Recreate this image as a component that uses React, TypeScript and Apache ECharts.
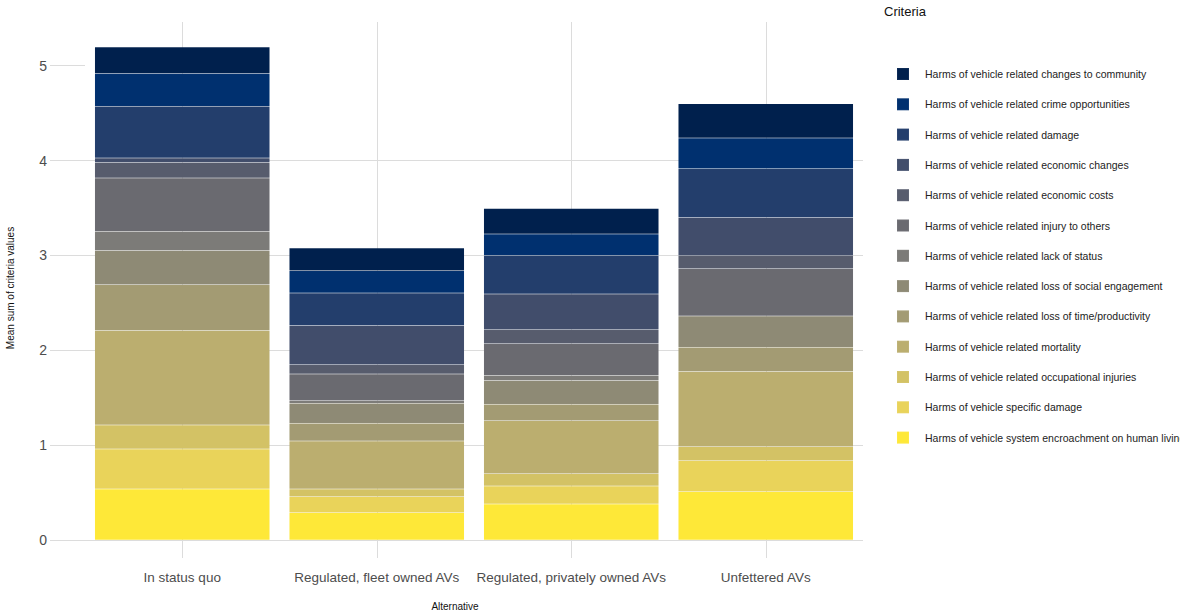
import React, { useEffect, useRef } from "react";
import * as echarts from "echarts";

const categories = [
  "In status quo",
  "Regulated, fleet owned AVs",
  "Regulated, privately owned AVs",
  "Unfettered AVs",
];

// Criteria, listed bottom of stack -> top of stack
const criteriaNames = [
  "Harms of vehicle system encroachment on human living",
  "Harms of vehicle specific damage",
  "Harms of vehicle related occupational injuries",
  "Harms of vehicle related mortality",
  "Harms of vehicle related loss of time/productivity",
  "Harms of vehicle related loss of social engagement",
  "Harms of vehicle related lack of status",
  "Harms of vehicle related injury to others",
  "Harms of vehicle related economic costs",
  "Harms of vehicle related economic changes",
  "Harms of vehicle related damage",
  "Harms of vehicle related crime opportunities",
  "Harms of vehicle related changes to community",
];

const encroachment = [0.538, 0.288, 0.38, 0.509];
const specificDamage = [0.422, 0.169, 0.19, 0.327];
const occupationalInjuries = [0.253, 0.081, 0.127, 0.148];
const mortality = [0.995, 0.506, 0.559, 0.791];
const lossOfTime = [0.482, 0.187, 0.176, 0.257];
const lossOfSocial = [0.362, 0.211, 0.249, 0.33];
const lackOfStatus = [0.2, 0.027, 0.053, 0.0];
const injuryToOthers = [0.563, 0.282, 0.334, 0.496];
const economicCosts = [0.165, 0.095, 0.148, 0.137];
const economicChanges = [0.046, 0.415, 0.377, 0.404];
const damage = [0.545, 0.342, 0.407, 0.514];
const crime = [0.345, 0.235, 0.226, 0.324];
const community = [0.281, 0.239, 0.267, 0.362];

const seriesValues = [
  encroachment,
  specificDamage,
  occupationalInjuries,
  mortality,
  lossOfTime,
  lossOfSocial,
  lackOfStatus,
  injuryToOthers,
  economicCosts,
  economicChanges,
  damage,
  crime,
  community,
];

const colors = [
  "#FEE838",
  "#E9D35A",
  "#D3C265",
  "#BBAE6F",
  "#A39B73",
  "#8E8A75",
  "#7C7B78",
  "#6A6A70",
  "#575C6D",
  "#414D6B",
  "#233E6C",
  "#00306F",
  "#00204D",
];

const yTicks = [0, 1, 2, 3, 4, 5];

const FONT = "'Liberation Sans', Arial, sans-serif";
const GRID = "#dcdcdc";

export default function App() {
  const ref = useRef<HTMLDivElement>(null);
  useEffect(() => {
    if (!ref.current) return;
    const chart = echarts.init(ref.current, undefined, { renderer: "svg" });
    const series = criteriaNames.map((name, i) => ({
      name,
      type: "bar",
      stack: "total",
      barWidth: "90%",
      data: seriesValues[i],
      itemStyle: {
        color: colors[i],
        borderColor: "rgba(255,255,255,0.05)",
        borderWidth: 0.5,
      },
      emphasis: { disabled: true },
    }));
    chart.setOption({
      animation: false,
      backgroundColor: "#ffffff",
      textStyle: { fontFamily: FONT },
      title: {
        text: "Criteria",
        left: 884,
        top: 5,
        padding: 0,
        textStyle: { fontSize: 13, fontWeight: "normal", color: "#111", fontFamily: FONT },
      },
      legend: {
        data: criteriaNames.slice().reverse(),
        orient: "vertical",
        left: 896,
        top: 67,
        padding: 0,
        itemWidth: 12,
        itemHeight: 12,
        itemGap: 16.3,
        icon: "rect",
        selectedMode: false,
        textStyle: {
          fontSize: 10.5,
          color: "#222",
          fontFamily: FONT,
          padding: [0, 0, 0, 11],
          lineHeight: 12,
        },
      },
      grid: { left: 85, right: 317, top: 22, bottom: 74, containLabel: false },
      xAxis: {
        type: "category",
        data: categories,
        axisLine: { show: false },
        axisTick: {
          show: true,
          interval: 0,
          alignWithLabel: true,
          length: 18,
          lineStyle: { color: GRID },
        },
        splitLine: {
          show: true,
          interval: 0,
          alignWithLabel: true,
          lineStyle: { color: GRID, width: 1 },
        },
        axisLabel: { interval: 0, margin: 30, fontSize: 13.5, color: "#4d4d4d", fontFamily: FONT },
      },
      yAxis: {
        type: "value",
        min: yTicks[0],
        max: 5.46,
        interval: 1,
        axisLine: { show: false },
        axisTick: { show: true, length: 35, customValues: yTicks, lineStyle: { color: GRID } },
        splitLine: { show: true, showMaxLine: false, lineStyle: { color: GRID, width: 1 } },
        axisLabel: {
          margin: 38,
          fontSize: 14,
          color: "#4d4d4d",
          fontFamily: FONT,
          customValues: yTicks,
        },
      },
      graphic: [
        {
          type: "text",
          x: 10,
          y: 288,
          rotation: Math.PI / 2,
          style: {
            text: "Mean sum of criteria values",
            fontSize: 10,
            fill: "#111",
            fontFamily: FONT,
            textAlign: "center",
            textVerticalAlign: "middle",
          },
        },
        {
          type: "text",
          x: 455,
          y: 606,
          style: {
            text: "Alternative",
            fontSize: 10,
            fill: "#111",
            fontFamily: FONT,
            textAlign: "center",
            textVerticalAlign: "middle",
          },
        },
      ],
      series,
    });
    return () => chart.dispose();
  }, []);
  return <div ref={ref} style={{ width: 1180, height: 614, position: "fixed", left: 0, top: 0 }} />;
}
